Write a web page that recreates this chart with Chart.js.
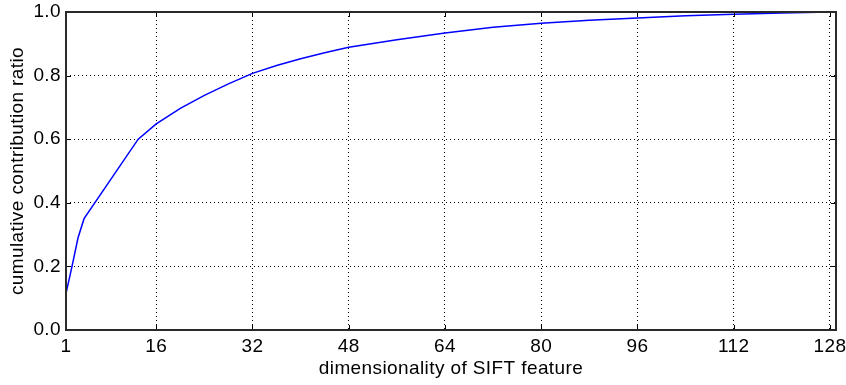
<!DOCTYPE html>
<html>
<head>
<meta charset="utf-8">
<script src="https://cdn.jsdelivr.net/npm/chart.js@4/dist/chart.umd.min.js"></script>
<style>
  html, body { margin: 0; padding: 0; background: #fff; }
  #wrap { width: 846px; height: 385px; }
</style>
</head>
<body>
<div id="wrap"><canvas id="c" width="846" height="385"></canvas></div>
<script>
// Number of retained dimensions and the cumulative contribution ratio at each
const dims  = [1, 2, 3, 4, 13, 16, 20, 24, 28, 32, 36, 40, 44, 48, 56, 64, 72, 80, 88, 96, 104, 112, 120, 128];
const ratio = [0.115, 0.20, 0.29, 0.35, 0.60, 0.648, 0.697, 0.738, 0.774, 0.807, 0.832, 0.853, 0.872, 0.889, 0.913, 0.934, 0.952, 0.965, 0.974, 0.981, 0.988, 0.993, 0.997, 1.0];

// Axis ticks
const xTicks = [1, 16, 32, 48, 64, 80, 96, 112, 128];
const yTicks = [0, 0.2, 0.4, 0.6, 0.8, 1.0];

const FONT = { family: '"Liberation Sans", Arial, Helvetica, sans-serif', size: 19 };
const SPACING = '0.4px';

// Slightly open letter spacing for all labels
const spacingPlugin = {
  id: 'spacing',
  beforeLayout(chart) { chart.ctx.letterSpacing = SPACING; },
  beforeDraw(chart) { chart.ctx.letterSpacing = SPACING; }
};

// Black frame around the plot area with short inward tick marks on every side
const framePlugin = {
  id: 'frame',
  afterDraw(chart) {
    const { ctx, chartArea: a, scales } = chart;
    ctx.save();
    ctx.strokeStyle = '#000';
    ctx.lineWidth = 1;
    ctx.beginPath();
    xTicks.forEach(v => {
      const px = Math.round(scales.x.getPixelForValue(v)) + 0.5;
      ctx.moveTo(px, a.bottom); ctx.lineTo(px, a.bottom - 5);
      ctx.moveTo(px, a.top);    ctx.lineTo(px, a.top + 5);
    });
    yTicks.forEach(v => {
      const py = Math.round(scales.y.getPixelForValue(v)) + 0.5;
      ctx.moveTo(a.left, py);  ctx.lineTo(a.left + 5, py);
      ctx.moveTo(a.right, py); ctx.lineTo(a.right - 5, py);
    });
    ctx.stroke();
    ctx.lineWidth = 2;
    ctx.strokeStyle = '#2a2a2a';
    ctx.strokeRect(a.left, a.top, a.right - a.left, a.bottom - a.top);
    ctx.restore();
  }
};

const noEdgePadding = s => { s.paddingLeft = 0; s.paddingRight = 0; s.paddingTop = 0; s.paddingBottom = 0; };

new Chart(document.getElementById('c'), {
  type: 'line',
  data: {
    datasets: [{
      data: dims.map((d, i) => ({ x: d, y: ratio[i] })),
      borderColor: '#0000ff',
      borderWidth: 1.5,
      pointRadius: 0,
      tension: 0,
      fill: false
    }]
  },
  options: {
    responsive: false,
    animation: false,
    layout: { padding: { top: 12, right: 10, left: 0, bottom: 0 } },
    plugins: { legend: { display: false }, tooltip: { enabled: false } },
    scales: {
      x: {
        type: 'linear',
        min: 1,
        max: 129,
        afterBuildTicks: s => { s.ticks = xTicks.map(v => ({ value: v })); },
        afterFit: s => { s.height = 55; noEdgePadding(s); },
        ticks: { color: '#000', font: FONT, padding: 5, maxRotation: 0, autoSkip: false },
        grid: { color: '#000', lineWidth: 1, drawTicks: false },
        border: { display: false, dash: [1, 3] },
        title: { display: true, text: 'dimensionality of SIFT feature', color: '#000', font: FONT, padding: { top: 0, bottom: 5 } }
      },
      y: {
        min: 0,
        max: 1,
        afterBuildTicks: s => { s.ticks = yTicks.map(v => ({ value: v })); },
        afterFit: s => { s.width = 66; noEdgePadding(s); },
        ticks: { color: '#000', font: FONT, padding: 5, callback: v => v.toFixed(1) },
        grid: { color: '#000', lineWidth: 1, drawTicks: false },
        border: { display: false, dash: [1, 3] },
        title: { display: true, text: 'cumulative contribution ratio', color: '#000', font: FONT, padding: { top: 6, bottom: 0 } }
      }
    }
  },
  plugins: [spacingPlugin, framePlugin]
});
</script>
</body>
</html>
